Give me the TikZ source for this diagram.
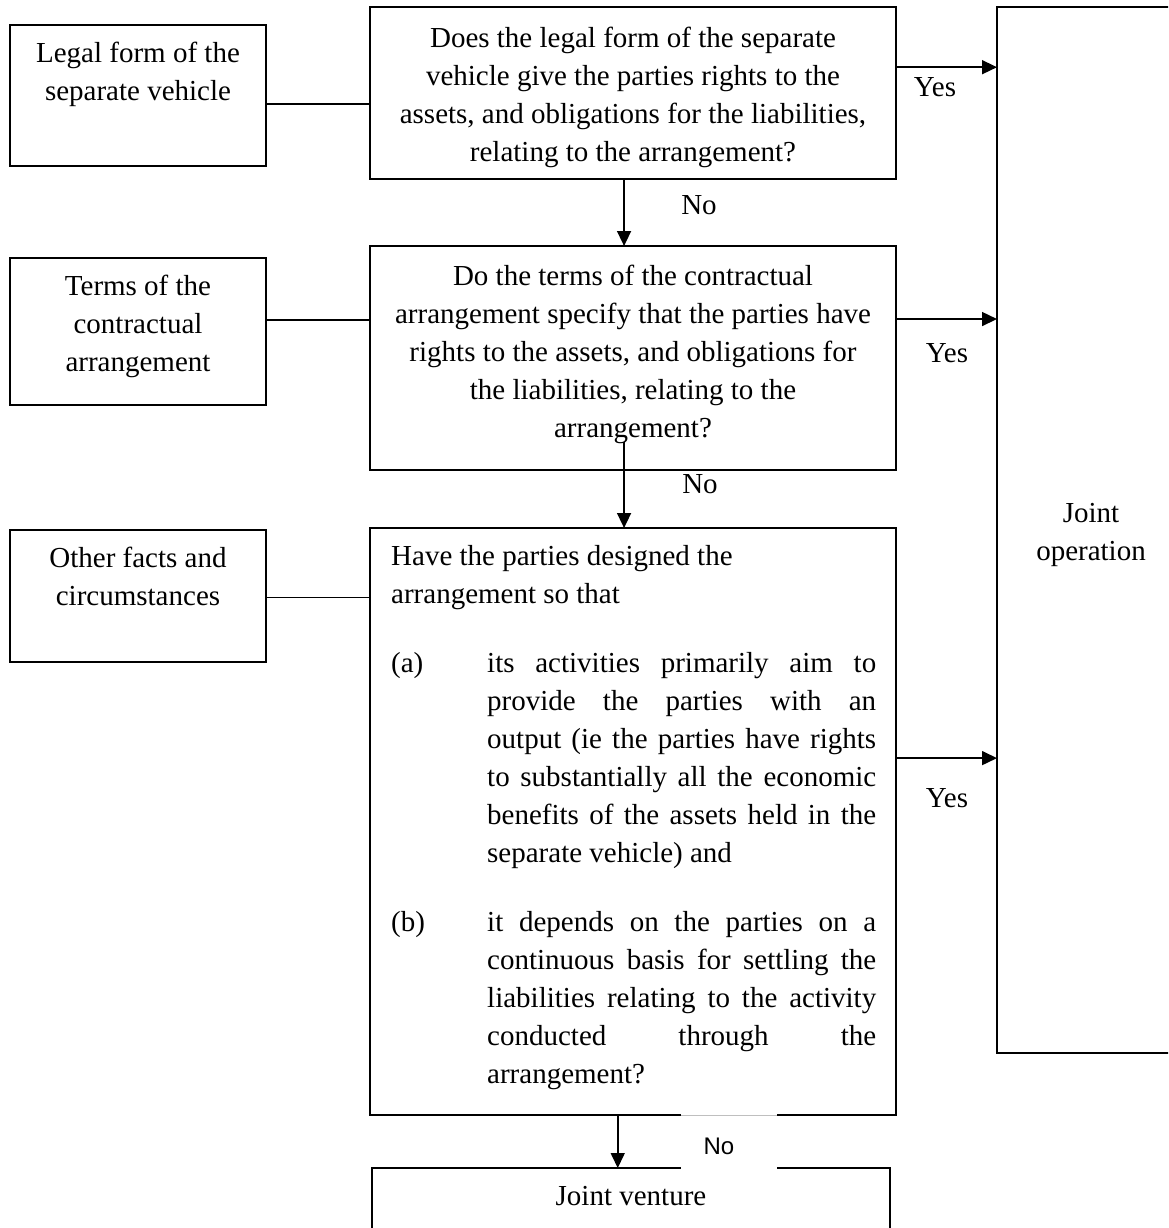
\documentclass[tikz,border=0pt]{standalone}
\usepackage{fontspec}
\setmainfont{Liberation Serif}
\newfontfamily\lblsans{Liberation Sans}
\usetikzlibrary{arrows.meta,calc}
\newcommand{\ctrtext}[2]{\begin{minipage}[t]{#1}\centering #2\end{minipage}}
\begin{document}
\begin{tikzpicture}[x=1pt,y=-1pt,
  box/.style={draw, line width=1.8pt, inner sep=0pt, outer sep=0pt, anchor=north west},
  txt/.style={inner sep=0pt, font=\fontsize{29}{38}\selectfont, anchor=base},
  link/.style={line width=1.6pt},
  arr/.style={line width=1.6pt, -{Triangle[length=15pt,width=14pt]}},
  lbl/.style={inner sep=0pt, font=\fontsize{29}{38}\selectfont, anchor=base}]
\useasboundingbox (0,0) rectangle (1168,1228);
\clip (0,0) rectangle (1168,1228);
% boxes
\node[box, minimum width=256pt, minimum height=141pt] (A) at (10,25) {};
\node[box, minimum width=526pt, minimum height=172pt] (Q1) at (370,7) {};
\node[box, minimum width=256pt, minimum height=147pt] (B) at (10,258) {};
\node[box, minimum width=526pt, minimum height=224pt] (Q2) at (370,246) {};
\node[box, minimum width=256pt, minimum height=132pt] (C) at (10,530) {};
\node[box, minimum width=526pt, minimum height=587pt] (Q3) at (370,528) {};
\node[box, minimum width=188pt, minimum height=1046pt] (JO) at (997,7) {};
\node[box, minimum width=518pt, minimum height=100pt] (JV) at (372,1168) {};
% texts
\node[txt] (tA) at (138,63) {\ctrtext{240pt}{Legal form of the\\separate vehicle}};
\node[txt] (tQ1) at (633,48) {\ctrtext{510pt}{Does the legal form of the separate\\vehicle give the parties rights to the\\assets, and obligations for the liabilities,\\relating to the arrangement?}};
\node[txt] (tB) at (138,295) {\ctrtext{240pt}{Terms of the\\contractual\\arrangement}};
\node[txt] (tQ2) at (633,285) {\ctrtext{510pt}{Do the terms of the contractual\\arrangement specify that the parties have\\rights to the assets, and obligations for\\the liabilities, relating to the\\arrangement?}};
\node[txt] (tC) at (138,567) {\ctrtext{240pt}{Other facts and\\circumstances}};
\node[txt, anchor=base west] (tQ3) at (391,565) {\begin{minipage}[t]{485pt}
{\raggedright Have the parties designed the\\arrangement so that\par}
\vspace{31pt}
\hangindent=96pt\hangafter=1\noindent\makebox[96pt][l]{(a)}its activities primarily aim to\linebreak provide the parties with an\linebreak output (ie the parties have rights\linebreak to substantially all the economic\linebreak benefits of the assets held in the\linebreak separate vehicle) and\par
\vspace{31pt}
\hangindent=96pt\hangafter=1\noindent\makebox[96pt][l]{(b)}it depends on the parties on a\linebreak continuous basis for settling the\linebreak liabilities relating to the activity\linebreak conducted through the\linebreak arrangement?\par
\end{minipage}};
\node[txt] (tJO) at (1091,522) {\ctrtext{180pt}{Joint\\operation}};
\node[txt] (tJV) at (631,1205) {Joint venture};
% connectors from side boxes
\coordinate (a1) at ($(A.north east)!0.56!(A.south east)$);
\coordinate (b1) at ($(B.north east)!0.42!(B.south east)$);
\coordinate (c1) at ($(C.north east)!0.51!(C.south east)$);
\draw[link] (a1) -- (a1 -| Q1.west);
\draw[link] (b1) -- (b1 -| Q2.west);
\draw[link] (c1) -- (c1 -| Q3.west);
% yes arrows
\coordinate (y1) at ($(Q1.north east)!0.35!(Q1.south east)$);
\coordinate (y2) at ($(Q2.north east)!0.326!(Q2.south east)$);
\coordinate (y3) at ($(Q3.north east)!0.392!(Q3.south east)$);
\draw[arr] (y1) -- (y1 -| JO.west);
\draw[arr] (y2) -- (y2 -| JO.west);
\draw[arr] (y3) -- (y3 -| JO.west);
% no arrows
\coordinate (n1) at ($(Q1.south west)!0.483!(Q1.south east)$);
\coordinate (n2) at ($(Q2.south west)!0.483!(Q2.south east)+(0,-28)$);
\coordinate (n3) at ($(Q3.south west)!0.471!(Q3.south east)$);
\draw[arr] (n1) -- (n1 |- Q2.north);
\draw[arr] (n2) -- (n2 |- Q3.north);
\draw[arr] (n3) -- (n3 |- JV.north);
% labels
\node[lbl] (yes1) at (935,97) {Yes};
\node[lbl] (yes2) at (947,362) {Yes};
\node[lbl] (yes3) at (947,807) {Yes};
\node[lbl] (no1) at (699,214) {No};
\node[lbl] (no2) at (700,493) {No};
\node[fill=white, inner sep=0pt, outer sep=0pt, minimum width=96pt, minimum height=59pt, anchor=north] (nobg) at (729,1114) {};
\draw[black!25, line width=0.6pt] ($(nobg.north west)+(0,1)$) -- ($(nobg.north east)+(0,1)$);
\node[inner sep=0pt, anchor=base, font=\lblsans\fontsize{24}{28}\selectfont] (no3) at (719,1154) {No};
\end{tikzpicture}
\end{document}
